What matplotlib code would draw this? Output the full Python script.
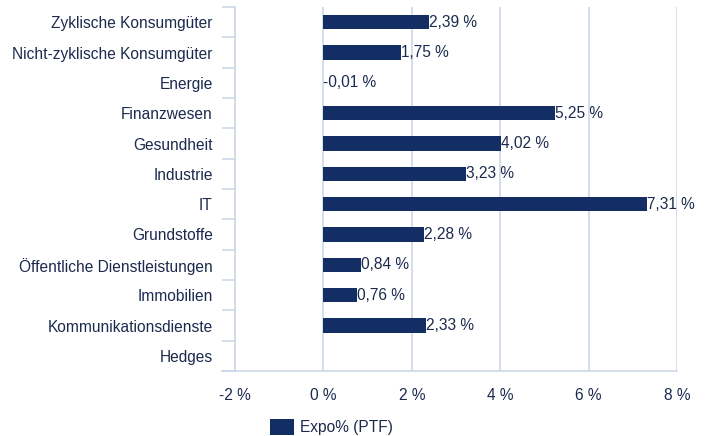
import numpy as np
import matplotlib
matplotlib.use("Agg")
from matplotlib import pyplot as plt
from matplotlib.patches import Patch

categories = ['Zyklische Konsumgüter', 'Nicht-zyklische Konsumgüter', 'Energie',
              'Finanzwesen', 'Gesundheit', 'Industrie', 'IT', 'Grundstoffe',
              'Öffentliche Dienstleistungen', 'Immobilien',
              'Kommunikationsdienste', 'Hedges']
values = [2.39, 1.75, -0.01, 5.25, 4.02, 3.23, 7.31, 2.28, 0.84, 0.76, 2.33, None]
xticks = [-2, 0, 2, 4, 6, 8]
series_name = 'Expo% (PTF)'

bar_color = '#132d65'
grid_color = '#cdd8e7'
text_color = '#1c2a4e'
fs = 11.2

plt.rcParams['font.family'] = ['Liberation Sans', 'DejaVu Sans']

fig = plt.figure(figsize=(7.11, 4.36), dpi=100)
ax = fig.add_axes([235/711, 1 - 371/436, (677 - 235)/711, (371 - 7)/436])

y = np.arange(len(categories))
vals = [v if v is not None else 0 for v in values]
ax.barh(y, vals, height=0.47, color=bar_color, zorder=3)

for yi, v in zip(y, values):
    if v is None:
        continue
    txt = f'{v:.2f}'.replace('.', ',') + ' %'
    ax.text(max(v, 0), yi, txt, va='center', ha='left', fontsize=fs,
            color=text_color, zorder=4)

ax.set_xlim(-2, 8)
ax.set_ylim(len(categories) - 0.5, -0.5)
ax.set_xticks(xticks)
ax.set_xticklabels([f'{t} %' for t in xticks])
ax.set_yticks(y)
ax.set_yticklabels(categories)
ax.set_yticks(np.arange(len(categories) + 1) - 0.5, minor=True)

ax.tick_params(axis='y', which='major', length=0, pad=16, labelsize=fs,
               labelcolor=text_color)
ax.tick_params(axis='y', which='minor', length=9.5, width=1.2, color=grid_color)
ax.tick_params(axis='x', length=0, pad=12, labelsize=fs, labelcolor=text_color)

ax.grid(axis='x', color=grid_color, linewidth=1.2, zorder=0)
for s in ['top', 'right']:
    ax.spines[s].set_visible(False)
ax.spines['left'].set_color(grid_color)
ax.spines['left'].set_linewidth(1.2)
ax.spines['bottom'].set_color(grid_color)
ax.spines['bottom'].set_linewidth(1.2)
ax.spines['bottom'].set_bounds(-2.3, 8)
ax.spines['bottom'].set_clip_on(False)

handles = [Patch(facecolor=bar_color, label=series_name)]
fig.legend(handles=handles, loc='lower left', bbox_to_anchor=(260/711, -0.022),
           frameon=False, fontsize=fs, labelcolor=text_color, borderpad=0.15,
           handlelength=1.55, handleheight=1.16, handletextpad=0.4)

fig.savefig('out.png', dpi=100)
